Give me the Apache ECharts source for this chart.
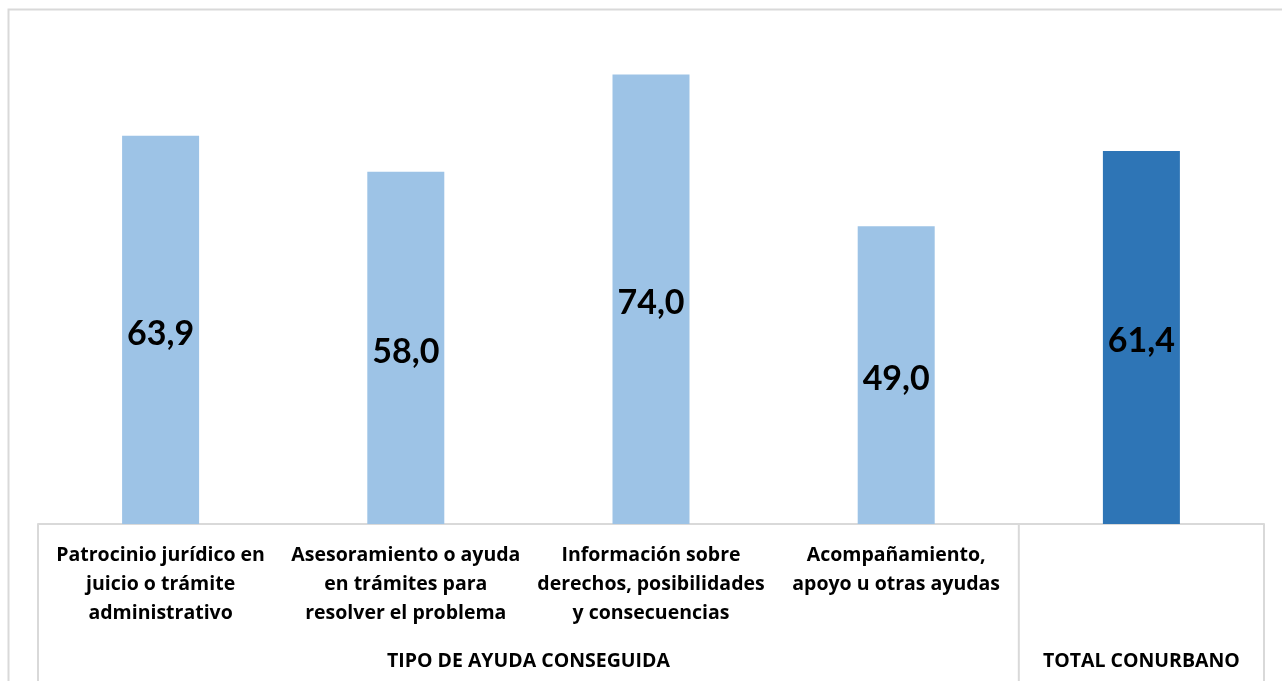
<!DOCTYPE html>
<html>
<head>
<meta charset="utf-8">
<script src="https://cdn.jsdelivr.net/npm/echarts@6/dist/echarts.min.js"></script>
<style>
  html, body { margin: 0; padding: 0; background: #fff; }
  #main { width: 1282px; height: 681px; }
</style>
</head>
<body>
<div id="main"></div>
<script>
// categorías (eje x) y valores
var categorias = [
  'Patrocinio jurídico en\njuicio o trámite\nadministrativo',
  'Asesoramiento o ayuda\nen trámites para\nresolver el problema',
  'Información sobre\nderechos, posibilidades\ny consecuencias',
  'Acompañamiento,\napoyo u otras ayudas',
  ''
]
var valores = [63.9, 58.0, 74.0, 49.0, 61.4]
var grupos = ['TIPO DE AYUDA CONSEGUIDA', 'TOTAL CONURBANO']
var grupoTamanos = [4, 1]

var fuente = '"Open Sans", Lato, sans-serif'
var fuenteValor = 'Lato, "Open Sans", sans-serif'
var colorClaro = '#9DC3E6'
var colorOscuro = '#2E75B6'
var colorLinea = '#d9d9d9'

var myChart = echarts.init(document.getElementById('main'))

var option = {
  animation: false,
  grid: { left: 38, right: 18, top: 38, bottom: 157 },
  xAxis: {
    type: 'category',
    data: categorias,
    axisLine: { show: true, lineStyle: { color: colorLinea, width: 2 } },
    axisTick: { show: false },
    axisLabel: {
      interval: 0,
      margin: 17,
      color: '#000',
      fontFamily: fuente,
      fontWeight: 'bold',
      fontSize: 19.5,
      lineHeight: 29
    }
  },
  yAxis: {
    type: 'value',
    min: 0,
    max: 80,
    show: false,
    splitLine: { show: false }
  },
  series: [{
    type: 'bar',
    barWidth: 77,
    data: valores.map(function (v, i) {
      return { value: v, itemStyle: { color: i === valores.length - 1 ? colorOscuro : colorClaro } }
    }),
    label: {
      show: true,
      position: 'inside',
      offset: [0, 4],
      color: '#000',
      fontFamily: fuenteValor,
      fontWeight: 'bold',
      fontSize: 34,
      formatter: function (p) { return p.value.toFixed(1).replace('.', ',') }
    }
  }]
}

myChart.setOption(option)

// tabla de categorías agrupadas debajo del eje
function dibujarGrupos () {
  var x0 = myChart.convertToPixel({ xAxisIndex: 0 }, 0)
  var x1 = myChart.convertToPixel({ xAxisIndex: 0 }, 1)
  var banda = x1 - x0
  var yEje = myChart.convertToPixel({ yAxisIndex: 0 }, 0)
  var alto = myChart.getHeight()
  var elementos = [{
    type: 'rect',
    silent: true,
    z: -1,
    shape: { x: 8.5, y: 9.5, width: 1400, height: 800 },
    style: { fill: '#fff', stroke: colorLinea, lineWidth: 2 }
  }]
  var inicio = x0 - banda / 2
  var bordes = [inicio]
  grupoTamanos.forEach(function (n, g) {
    var fin = inicio + n * banda
    bordes.push(fin)
    elementos.push({
      type: 'text',
      silent: true,
      style: {
        text: grupos[g],
        x: (inicio + fin) / 2,
        y: 661,
        align: 'center',
        verticalAlign: 'middle',
        fill: '#000',
        font: 'bold 19.5px ' + fuente
      }
    })
    inicio = fin
  })
  bordes.forEach(function (bx) {
    elementos.push({
      type: 'line',
      silent: true,
      shape: { x1: bx, y1: yEje, x2: bx, y2: alto },
      style: { stroke: colorLinea, lineWidth: 2 }
    })
  })
  myChart.setOption({ graphic: elementos })
}

dibujarGrupos()
window.addEventListener('resize', function () {
  myChart.resize()
  dibujarGrupos()
})
</script>
</body>
</html>
